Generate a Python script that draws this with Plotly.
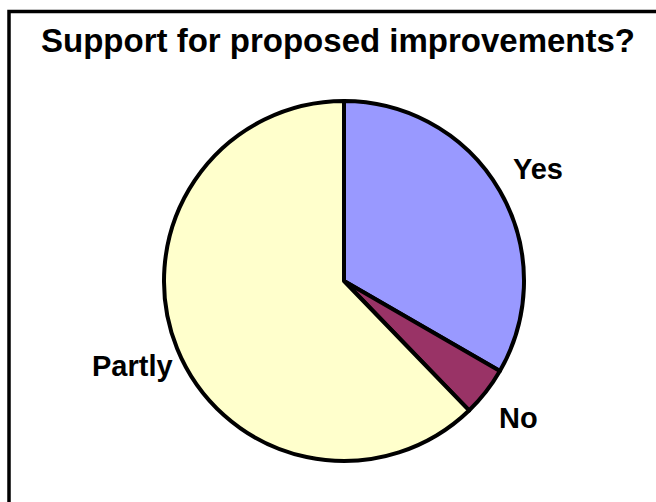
import math
import plotly.graph_objects as go

# Data
categories = ["Yes", "No", "Partly"]
values = [15, 2, 28]
colors = ["#9999FF", "#993366", "#FFFFCC"]
title_text = "Support for proposed improvements?"

W, H = 656, 502
cx, cy, R = 344, 281, 180  # pie centre / radius in pixels
label_r = [224, 222, 228]

fig = go.Figure()
fig.add_trace(go.Pie(
    labels=categories,
    values=values,
    sort=False,
    direction="clockwise",
    rotation=0,
    marker=dict(colors=colors, line=dict(color="black", width=4)),
    textinfo="none",
    hoverinfo="label+value+percent",
    showlegend=False,
    domain=dict(x=[(cx - R) / W, (cx + R) / W], y=[1 - (cy + R) / H, 1 - (cy - R) / H]),
))

# Labels placed along each slice's bisector
total = sum(values)
cum = 0
for lab, v, lr in zip(categories, values, label_r):
    mid = (cum + v / 2) / total * 2 * math.pi
    cum += v
    px = cx + lr * math.sin(mid)
    py = cy - lr * math.cos(mid)
    fig.add_annotation(
        x=px / W, y=1 - py / H, xref="paper", yref="paper",
        text=f"<b>{lab}</b>", showarrow=False,
        font=dict(family="Liberation Sans, Arial, sans-serif", size=29, color="black"),
        xanchor="center", yanchor="middle",
    )

fig.add_annotation(
    x=338 / W, y=1 - 40 / H, xref="paper", yref="paper",
    text=f"<b>{title_text}</b>", showarrow=False,
    font=dict(family="Liberation Sans, Arial, sans-serif", size=33, color="black"),
    xanchor="center", yanchor="middle",
)

# Chart frame (extends past right/bottom edges as in the reference)
fig.add_shape(type="rect", xref="paper", yref="paper",
              x0=9 / W, x1=1.05, y0=-0.05, y1=1 - 11.5 / H,
              line=dict(color="black", width=3.5), fillcolor="rgba(0,0,0,0)")

fig.update_layout(
    width=W, height=H,
    margin=dict(l=0, r=0, t=0, b=0),
    paper_bgcolor="white", plot_bgcolor="white",
)

fig.write_html(
    "out.html",
    config={"displayModeBar": False},
    post_script="document.body.style.margin='0';document.body.style.overflow='hidden';",
)
